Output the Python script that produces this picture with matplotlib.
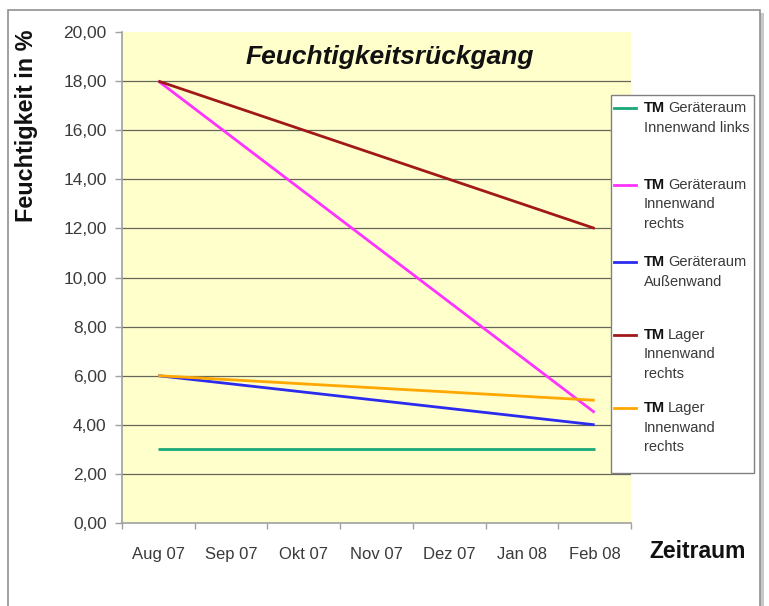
import matplotlib
matplotlib.use("Agg")
import matplotlib.pyplot as plt
from matplotlib.patches import Rectangle
from matplotlib.lines import Line2D
import numpy as np

months = ["Aug 07", "Sep 07", "Okt 07", "Nov 07", "Dez 07", "Jan 08", "Feb 08"]
series_labels = [
    "TM Geräteraum\nInnenwand links",
    "TM Geräteraum\nInnenwand\nrechts",
    "TM Geräteraum\nAußenwand",
    "TM Lager\nInnenwand\nrechts",
    "TM Lager\nInnenwand\nrechts",
]
nan = np.nan
geraet_links = [3.0, nan, nan, nan, nan, nan, 3.0]
geraet_rechts = [18.0, nan, nan, nan, nan, nan, 4.5]
geraet_aussen = [6.0, nan, nan, nan, nan, nan, 4.0]
lager_rechts_a = [18.0, nan, nan, nan, nan, nan, 12.0]
lager_rechts_b = [6.0, nan, nan, nan, nan, nan, 5.0]
series = [geraet_links, geraet_rechts, geraet_aussen, lager_rechts_a, lager_rechts_b]
colors = ["#1aa877", "#ff33ff", "#2b2bf0", "#a01818", "#ffa800"]
yticks = [0, 2, 4, 6, 8, 10, 12, 14, 16, 18, 20]

plt.rcParams['font.family'] = ['Liberation Sans', 'DejaVu Sans']
W, H = 769, 606
fig = plt.figure(figsize=(W / 100, H / 100), dpi=100)
fig.patch.set_facecolor("white")

def fx(px):
    return px / W

def fy(py):
    return 1 - py / H

# outer chart border with shadow
fig.patches.append(Rectangle((fx(760), fy(620)), fx(4), fy(13) - fy(620),
                             transform=fig.transFigure, facecolor="#c8c8c8",
                             edgecolor="none", zorder=-20))
fig.patches.append(Rectangle((fx(8), fy(620)), fx(752), fy(10) - fy(620),
                             transform=fig.transFigure, facecolor="white",
                             edgecolor="#909090", linewidth=1.2, zorder=-10))

ax = fig.add_axes([fx(122), fy(523), fx(631) - fx(122), fy(32) - fy(523)])
ax.set_zorder(1)
ax.set_facecolor("#ffffcc")
ax.set_xlim(-0.5, 6.5)
ax.set_ylim(0, 20)

for yv in yticks[1:-1]:
    ax.axhline(yv, color="#66665a", linewidth=0.9, zorder=1)

x = np.arange(len(months))
for vals, c in zip(series, colors):
    v = np.array(vals, dtype=float)
    m = ~np.isnan(v)
    ax.plot(x[m], v[m], color=c, linewidth=2.0, zorder=3, solid_capstyle="butt")

for s in ["top", "right"]:
    ax.spines[s].set_visible(False)
for s in ["left", "bottom"]:
    ax.spines[s].set_color("#a0a0a0")
    ax.spines[s].set_linewidth(1.2)

ax.set_yticks(yticks)
ax.set_yticklabels([f"{v:.2f}".replace(".", ",") for v in yticks],
                   fontsize=12.5, color="#3a3a3a")
ax.tick_params(axis="y", direction="out", length=5, width=1, color="#a0a0a0", pad=6)

ax.set_xticks(x)
ax.set_xticklabels(months, fontsize=12, color="#3a3a3a")
ax.tick_params(axis="x", which="major", length=0, pad=17)
ax.set_xticks(np.arange(-0.5, 7, 1), minor=True)
ax.tick_params(axis="x", which="minor", direction="out", length=4, width=1, color="#a0a0a0")

ax.text(0.527, 0.974, "Feuchtigkeitsrückgang", transform=ax.transAxes,
        ha="center", va="top", fontsize=19, fontweight="bold", fontstyle="italic",
        color="#111111")

fig.text(fx(27), fy(126), "Feuchtigkeit in %", rotation=90, ha="center", va="center",
         fontsize=16.8, fontweight="bold", color="#111111")
fig.text(fx(698), fy(551), "Zeitraum", ha="center", va="center",
         fontsize=16.5, fontweight="bold", color="#111111")

# legend
leg_box = Rectangle((fx(611), fy(473)), fx(754) - fx(611), fy(95) - fy(473),
                    transform=fig.transFigure, facecolor="white",
                    edgecolor="#808080", linewidth=1.0, zorder=5)
fig.patches.append(leg_box)
entry_y = [108, 185, 262, 335, 408]
renderer = fig.canvas.get_renderer()
for lab, c, ey in zip(series_labels, colors, entry_y):
    fig.lines.append(Line2D([fx(614), fx(636)], [fy(ey), fy(ey)], transform=fig.transFigure,
                            color=c, linewidth=2.0, zorder=6))
    for i, line in enumerate(lab.split("\n")):
        if i == 0 and line.startswith("TM "):
            t = fig.text(fx(644), fy(ey), "TM", ha="left", va="center",
                         fontsize=10.5, fontweight="bold", color="#111111", zorder=6)
            bb = t.get_window_extent(renderer)
            fig.text(fx(bb.x1 + 3), fy(ey), line[3:], ha="left", va="center",
                     fontsize=10.5, color="#3a3a3a", zorder=6)
        else:
            fig.text(fx(644), fy(ey + i * 19.5), line, ha="left", va="center",
                     fontsize=10.5, color="#3a3a3a", zorder=6)

fig.savefig("out.png", dpi=100, facecolor="white")
